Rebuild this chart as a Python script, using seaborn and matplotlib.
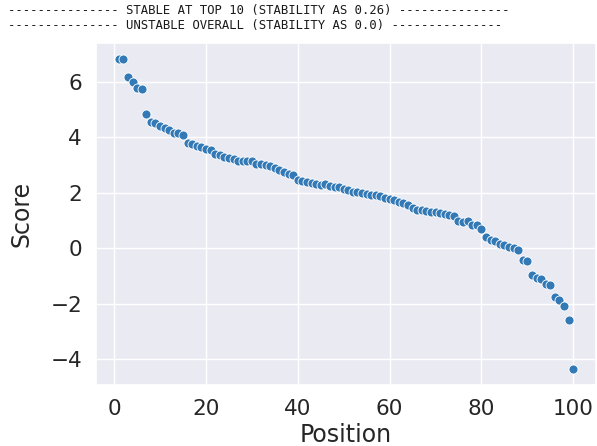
import matplotlib
matplotlib.use("Agg")
import matplotlib.pyplot as plt
import seaborn as sns
import pandas as pd

positions = list(range(1, 101))
scores = [
    6.84, 6.83, 6.17, 5.99, 5.79, 5.75, 4.84, 4.55, 4.52, 4.42,
    4.34, 4.26, 4.17, 4.14, 4.07, 3.80, 3.76, 3.70, 3.64, 3.59,
    3.53, 3.40, 3.36, 3.28, 3.25, 3.20, 3.16, 3.15, 3.14, 3.13,
    3.03, 3.02, 2.99, 2.95, 2.88, 2.83, 2.74, 2.69, 2.62, 2.45,
    2.43, 2.39, 2.35, 2.31, 2.28, 2.30, 2.23, 2.22, 2.19, 2.14,
    2.09, 2.03, 2.01, 1.97, 1.95, 1.92, 1.90, 1.88, 1.79, 1.78,
    1.73, 1.67, 1.61, 1.54, 1.44, 1.39, 1.37, 1.35, 1.31, 1.29,
    1.25, 1.23, 1.20, 1.15, 0.98, 0.94, 0.96, 0.82, 0.84, 0.70,
    0.39, 0.29, 0.24, 0.14, 0.10, 0.05, -0.01, -0.07, -0.43, -0.46,
    -0.97, -1.07, -1.12, -1.30, -1.34, -1.77, -1.89, -2.09, -2.58, -4.38,
]
title_lines = [
    "--------------- STABLE AT TOP 10 (STABILITY AS 0.26) ---------------",
    "--------------- UNSTABLE OVERALL (STABILITY AS 0.0) ---------------",
]

df = pd.DataFrame({"Position": positions, "Score": scores})

sns.set_theme(style="darkgrid")
fig = plt.figure(figsize=(5.97, 4.46), dpi=100)
ax = fig.add_axes([96 / 597, 1 - 385 / 446, 500 / 597, 342 / 446])

sns.scatterplot(data=df, x="Position", y="Score", ax=ax, color="#3379b5",
                s=42, edgecolor="white", linewidth=0.6)

ax.set_xticks([0, 20, 40, 60, 80, 100])
ax.set_yticks([-4, -2, 0, 2, 4, 6])
ax.tick_params(axis="both", labelsize=15.5, length=0, pad=10, colors="#262626")
ax.set_xlabel("Position", fontsize=17, labelpad=3, color="#262626")
ax.set_ylabel("Score", fontsize=17, labelpad=12, color="#262626")

fig.text(8 / 597, 1 - 4 / 446, title_lines[0], ha="left", va="top",
         family="DejaVu Sans Mono", fontsize=8.8, color="#1a1a1a")
fig.text(8 / 597, 1 - 19 / 446, title_lines[1], ha="left", va="top",
         family="DejaVu Sans Mono", fontsize=8.8, color="#1a1a1a")

fig.savefig("out.png", dpi=100)
